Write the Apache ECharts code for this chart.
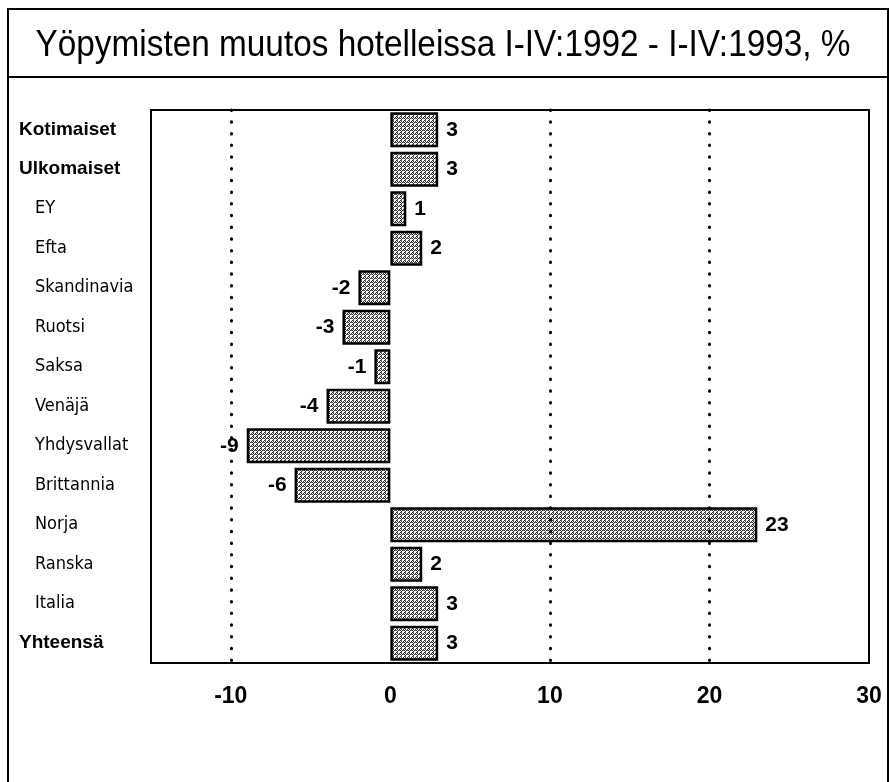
<!DOCTYPE html>
<html><head><meta charset="utf-8">
<script src="https://cdn.jsdelivr.net/npm/echarts@6/dist/echarts.min.js"></script>
<style>html,body{margin:0;padding:0;background:#fff}#c{width:890px;height:782px}</style>
</head><body><div id="c"></div>
<script>
const titleText = 'Yöpymisten muutos hotelleissa I-IV:1992 - I-IV:1993, %';
const categories = ['Kotimaiset','Ulkomaiset','EY','Efta','Skandinavia','Ruotsi','Saksa','Venäjä','Yhdysvallat','Brittannia','Norja','Ranska','Italia','Yhteensä'];
const headCategories = ['Kotimaiset','Ulkomaiset','Yhteensä'];
const values = [3,3,1,2,-2,-3,-1,-4,-9,-6,23,2,3,3];
const gridValues = [-10,10,20];
const tickLabels = [-10,0,10,20,30];

// title width fitting
const mc = document.createElement('canvas').getContext('2d');
const titleFont = '37px "Liberation Sans"';
mc.font = titleFont;
const tw = mc.measureText(titleText).width;
const titleScale = 815 / tw;

// dithered fill pattern
const pat = document.createElement('canvas');
pat.width = 4; pat.height = 4;
const pc = pat.getContext('2d');
pc.fillStyle = '#fff'; pc.fillRect(0,0,4,4);
pc.fillStyle = '#333';
[[0,0],[2,0],[1,1],[3,1],[0,2],[2,2],[1,3],[3,3]].forEach(([x,y],i)=>{ if(i%2===0||i===3||i===5) pc.fillRect(x,y,1,1); });
pc.fillStyle = '#777';
[[1,0],[3,2]].forEach(([x,y])=>pc.fillRect(x,y,1,1));

const chart = echarts.init(document.getElementById('c'));
chart.setOption({
  animation:false,
  backgroundColor:'#fff',
  graphic:[
    {type:'polyline',shape:{points:[[8,782],[8,9],[888,9],[888,782]]},style:{stroke:'#000',lineWidth:2,fill:null}},
    {type:'line',shape:{x1:8,y1:77,x2:888,y2:77},style:{stroke:'#000',lineWidth:2}},
    {type:'text',x:443,y:46,scaleX:titleScale,originX:0,originY:0,
      style:{text:titleText,font:titleFont,fill:'#000',align:'center',verticalAlign:'middle'}}
  ],
  grid:{left:151,top:110,width:718,height:553,show:true,borderColor:'#000',borderWidth:2,backgroundColor:'transparent'},
  xAxis:{type:'value',min:-15,max:30,interval:5,
    axisLine:{show:false},axisTick:{show:false},splitLine:{show:false},
    axisLabel:{margin:22,fontFamily:'Liberation Sans',fontWeight:'bold',fontSize:23,color:'#000',
      formatter:v=>tickLabels.includes(v)?String(v):''}},
  yAxis:{type:'category',data:categories,inverse:true,
    axisLine:{show:false},axisTick:{show:false},
    axisLabel:{align:'left',margin:132,
      formatter:v=>headCategories.includes(v)?'{h|'+v+'}':'{n|'+v+'}',
      rich:{h:{fontFamily:'Liberation Sans',fontWeight:900,fontSize:19,color:'#000'},
            n:{fontFamily:'DejaVu Sans Condensed',fontSize:18,color:'#000',padding:[0,0,0,16],letterSpacing:-0.8}}}},
  series:[{type:'bar',barCategoryGap:'11%',
    data:values.map(v=>v<0?{value:v,label:{position:'left'}}:v),
    itemStyle:{color:{image:pat,repeat:'repeat'},borderColor:'#000',borderWidth:2.5},
    label:{show:true,position:'right',distance:8,fontFamily:'Liberation Sans',fontWeight:'bold',fontSize:21,color:'#000',
      formatter:p=>String(p.value)},
    markLine:{silent:true,symbol:'none',label:{show:false},
      lineStyle:{color:'#000',type:[0.5,11.2],width:3,cap:'round'},
      data:gridValues.map(v=>({xAxis:v}))}
  }]
});
</script></body></html>
